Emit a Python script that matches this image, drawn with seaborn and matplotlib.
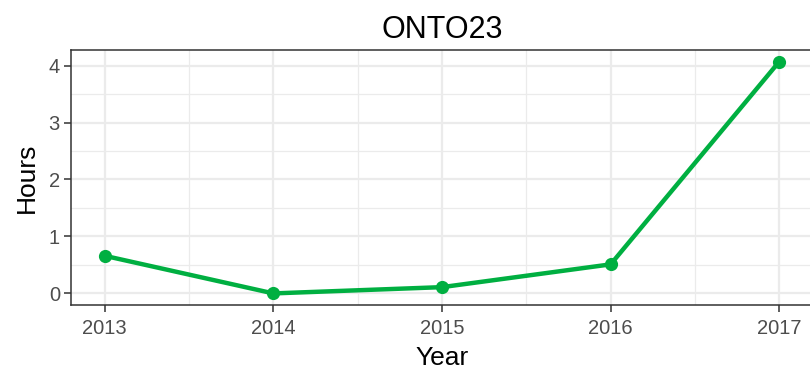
import matplotlib
matplotlib.use("Agg")
import matplotlib.pyplot as plt
from matplotlib.ticker import MultipleLocator
import seaborn as sns
import pandas as pd

years = [2013, 2014, 2015, 2016, 2017]
hours = [0.66, 0.0, 0.11, 0.51, 4.07]
title = "ONTO23"

df = pd.DataFrame({"Year": years, "Hours": hours})

sns.set_theme(style="white")
plt.rcParams["font.family"] = ["Liberation Sans", "DejaVu Sans"]

fig = plt.figure(figsize=(8.1, 3.75), dpi=100)
ax = fig.add_axes([71 / 810, 1 - 305 / 375, (813 - 71) / 810, (305 - 50) / 375])

green = "#00AF41"
sns.lineplot(data=df, x="Year", y="Hours", ax=ax, color=green, linewidth=3.2,
             marker="o", markersize=9.5, markeredgewidth=0, zorder=3)

ax.set_xlim(2012.8, 2017.2)
ax.set_ylim(-0.2035, 4.2735)
ax.set_xticks(years)
ax.set_xticklabels([str(y) for y in years])
ax.set_yticks([0, 1, 2, 3, 4])
ax.xaxis.set_minor_locator(MultipleLocator(0.5))
ax.yaxis.set_minor_locator(MultipleLocator(0.5))

ax.grid(which="major", color="#EBEBEB", linewidth=1.6, zorder=0)
ax.grid(which="minor", color="#EBEBEB", linewidth=0.9, zorder=0)
ax.set_axisbelow(True)

for s in ax.spines.values():
    s.set_color("#333333")
    s.set_linewidth(1.1)
    s.set_visible(True)

ax.tick_params(which="major", direction="out", length=5, width=1.1, color="#333333",
               labelsize=14.5, labelcolor="#4D4D4D", pad=3, bottom=True, left=True)
ax.tick_params(axis="x", which="major", pad=5)
ax.tick_params(which="minor", length=0)

ax.set_xlabel("Year", fontsize=19, color="black", labelpad=6)
ax.set_ylabel("Hours", fontsize=19, color="black", labelpad=7)
ax.set_title(title, fontsize=22, color="black", pad=9)

fig.savefig("out.png", dpi=100)
